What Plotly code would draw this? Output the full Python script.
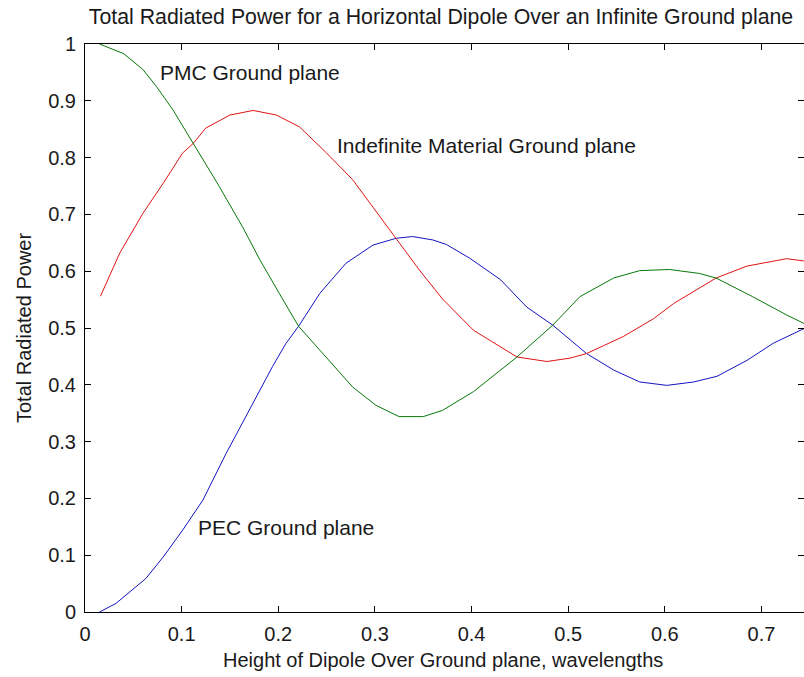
import plotly.graph_objects as go

# Height of the dipole above the ground plane (wavelengths) and total radiated power
pec_h = [0.015, 0.032, 0.063, 0.081, 0.101, 0.122, 0.146, 0.170, 0.194, 0.208, 0.221,
         0.243, 0.270, 0.298, 0.322, 0.339, 0.360, 0.374, 0.398, 0.430, 0.457, 0.484,
         0.519, 0.547, 0.574, 0.602, 0.630, 0.654, 0.685, 0.712, 0.744]
pec_p = [0.000, 0.015, 0.059, 0.097, 0.144, 0.197, 0.279, 0.355, 0.432, 0.473, 0.503,
         0.561, 0.614, 0.646, 0.658, 0.661, 0.655, 0.647, 0.623, 0.585, 0.537, 0.505,
         0.455, 0.426, 0.405, 0.399, 0.405, 0.415, 0.443, 0.473, 0.499]

pmc_h = [0.015, 0.040, 0.060, 0.074, 0.091, 0.112, 0.139, 0.163, 0.181, 0.201, 0.221,
         0.243, 0.277, 0.301, 0.325, 0.350, 0.370, 0.402, 0.447, 0.484, 0.512, 0.547,
         0.574, 0.605, 0.636, 0.653, 0.691, 0.726, 0.744]
pmc_p = [1.000, 0.983, 0.955, 0.925, 0.884, 0.825, 0.749, 0.678, 0.620, 0.561, 0.503,
         0.461, 0.396, 0.364, 0.344, 0.344, 0.355, 0.388, 0.449, 0.505, 0.555, 0.588,
         0.601, 0.603, 0.596, 0.588, 0.555, 0.523, 0.508]

ind_h = [0.016, 0.036, 0.060, 0.081, 0.101, 0.112, 0.125, 0.150, 0.174, 0.198, 0.222,
         0.250, 0.277, 0.305, 0.322, 0.346, 0.370, 0.402, 0.447, 0.478, 0.502, 0.519,
         0.557, 0.588, 0.609, 0.653, 0.685, 0.726, 0.744]
ind_p = [0.556, 0.632, 0.702, 0.755, 0.808, 0.825, 0.852, 0.875, 0.883, 0.875, 0.854,
         0.808, 0.761, 0.696, 0.658, 0.602, 0.551, 0.496, 0.449, 0.441, 0.447, 0.455,
         0.485, 0.516, 0.543, 0.588, 0.609, 0.622, 0.618]

x_ticks = [0, 0.1, 0.2, 0.3, 0.4, 0.5, 0.6, 0.7]
x_tick_text = ["0", "0.1", "0.2", "0.3", "0.4", "0.5", "0.6", "0.7"]
y_ticks = [0, 0.1, 0.2, 0.3, 0.4, 0.5, 0.6, 0.7, 0.8, 0.9, 1]
y_tick_text = ["0", "0.1", "0.2", "0.3", "0.4", "0.5", "0.6", "0.7", "0.8", "0.9", "1"]

FONT = "Liberation Sans, Arial, sans-serif"
INK = "#1a1a1a"

fig = go.Figure()
fig.add_trace(go.Scatter(x=pec_h, y=pec_p, mode="lines", name="PEC",
                         line=dict(color="#1414c0", width=1)))
fig.add_trace(go.Scatter(x=ind_h, y=ind_p, mode="lines", name="Indefinite",
                         line=dict(color="#e01414", width=1)))
fig.add_trace(go.Scatter(x=pmc_h, y=pmc_p, mode="lines", name="PMC",
                         line=dict(color="#087808", width=1)))
# invisible trace that carries the right-hand tick marks
fig.add_trace(go.Scatter(x=[0], y=[0], yaxis="y2", mode="lines",
                         line=dict(width=0), hoverinfo="skip", showlegend=False))

fig.update_layout(
    width=804, height=677,
    margin=dict(l=85, r=0, t=44, b=65),
    paper_bgcolor="white", plot_bgcolor="white",
    showlegend=False,
    font=dict(family=FONT, size=20, color=INK),
    title=dict(text="Total Radiated Power for a Horizontal Dipole Over an Infinite Ground plane",
               x=(441 - 85) / 719, xref="paper", y=1 - 17 / 677, yref="container",
               xanchor="center", yanchor="middle",
               font=dict(family=FONT, size=21.3, color=INK)),
    xaxis=dict(range=[0, 0.744], tickvals=x_ticks, ticktext=x_tick_text,
               ticks="inside", ticklen=6, tickcolor="black", tickwidth=1,
               showline=True, linecolor="black", linewidth=1, mirror="ticks",
               showgrid=False, zeroline=False, ticklabelstandoff=4,
               tickfont=dict(family=FONT, size=20, color=INK)),
    yaxis=dict(range=[0, 1], tickvals=y_ticks, ticktext=y_tick_text,
               ticks="inside", ticklen=6, tickcolor="black", tickwidth=1,
               showline=True, linecolor="black", linewidth=1,
               showgrid=False, zeroline=False, ticklabelstandoff=4,
               tickfont=dict(family=FONT, size=20, color=INK)),
    yaxis2=dict(range=[0, 1], overlaying="y", side="right", tickvals=y_ticks,
                ticks="inside", ticklen=6, tickcolor="black", tickwidth=1,
                showticklabels=False, showline=False, showgrid=False, zeroline=False),
)

annotations = [
    dict(text="Height of Dipole Over Ground plane, wavelengths", xref="paper", yref="paper",
         x=(443 - 85) / 719, y=-(660 - 612) / 568, xanchor="center", yanchor="middle",
         showarrow=False, font=dict(family=FONT, size=20, color=INK)),
    dict(text="Total Radiated Power", xref="paper", yref="paper",
         x=-(85 - 24) / 719, y=0.5, xanchor="center", yanchor="middle", textangle=-90,
         showarrow=False, font=dict(family=FONT, size=20, color=INK)),
    dict(text="PMC Ground plane", xref="x", yref="y", x=0.0755, y=0.949,
         xanchor="left", yanchor="middle", showarrow=False,
         font=dict(family=FONT, size=21, color=INK)),
    dict(text="Indefinite Material Ground plane", xref="x", yref="y", x=0.259, y=0.821,
         xanchor="left", yanchor="middle", showarrow=False,
         font=dict(family=FONT, size=21, color=INK)),
    dict(text="PEC Ground plane", xref="x", yref="y", x=0.115, y=0.149,
         xanchor="left", yanchor="middle", showarrow=False,
         font=dict(family=FONT, size=21, color=INK)),
]
fig.update_layout(annotations=annotations)

fig.write_html("out.html")
